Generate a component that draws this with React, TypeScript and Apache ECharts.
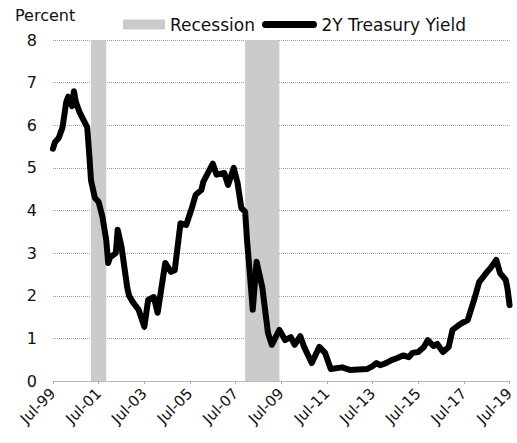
import React, { useEffect, useRef } from "react";
import * as echarts from "echarts";

// month index counted from Jul-1999 (0) to Jul-2019 (240)
const months = [
  0, 1, 3, 5, 7, 8, 9, 10, 11, 12, 14, 18, 19, 20, 22, 24, 26, 28, 29, 30, 33, 34, 36, 39, 40, 42,
  45, 48, 50, 53, 55, 59, 62, 64, 67, 70, 73, 75, 78, 79, 84, 86, 90, 92, 95, 97, 99, 101, 102, 103,
  105, 107, 110, 113, 115, 119, 122, 125, 127, 130, 132, 136, 140, 143, 146, 152, 156, 165, 168, 170,
  172, 175, 178, 181, 184, 187, 189, 192, 195, 197, 200, 202, 205, 208, 210, 213, 215, 218, 222, 224,
  228, 230, 233, 235, 238, 239, 240,
];
const yields = [
  5.45, 5.6, 5.7, 5.95, 6.55, 6.67, 6.6, 6.45, 6.8, 6.55, 6.3, 5.95, 5.35, 4.7, 4.3, 4.2, 3.85, 3.3, 2.77, 2.9, 3.0, 3.55, 3.15, 2.2, 2.0, 1.85,
  1.67, 1.27, 1.9, 1.97, 1.6, 2.77, 2.56, 2.6, 3.7, 3.66, 4.06, 4.37, 4.48, 4.67, 5.1, 4.84, 4.88, 4.6, 5.0, 4.65, 4.06, 3.97, 3.3, 2.77,
  1.67, 2.8, 2.2, 1.13, 0.85, 1.2, 0.96, 1.03, 0.85, 1.05, 0.8, 0.42, 0.8, 0.66, 0.28, 0.32, 0.26, 0.28, 0.35, 0.42,
  0.37, 0.42, 0.49, 0.54, 0.6, 0.56, 0.66, 0.68, 0.8, 0.96, 0.82, 0.87, 0.68, 0.8, 1.2, 1.3, 1.36, 1.43, 2.0, 2.32,
  2.55, 2.65, 2.84, 2.53, 2.37, 2.14, 1.78,
];
const recessionStarts = [20, 101];
const recessionEnds = [28, 119];
const yTicks = [0, 1, 2, 3, 4, 5, 6, 7, 8];

const FONT = "DejaVu Sans";
const BAND = "#cbcbcb";

function monthLabel(m: number): string {
  const names = ["Jan", "Feb", "Mar", "Apr", "May", "Jun", "Jul", "Aug", "Sep", "Oct", "Nov", "Dec"];
  const total = 6 + m;
  const year = 1999 + Math.floor(total / 12);
  const mon = names[total % 12];
  return mon + "-" + String(year % 100).padStart(2, "0");
}

export default function App() {
  const ref = useRef<HTMLDivElement>(null);
  useEffect(() => {
    document.body.style.margin = "0";
    const chart = echarts.init(ref.current!, undefined, { renderer: "svg" });
    chart.setOption({
      animation: false,
      backgroundColor: "#ffffff",
      graphic: [
        {
          type: "text",
          left: 15,
          top: 7,
          style: { text: "Percent", font: `16px "${FONT}"`, fill: "#111" },
        },
      ],
      legend: [
        {
          left: 118,
          top: 11,
          itemWidth: 42,
          itemHeight: 10,
          textStyle: { fontFamily: FONT, fontSize: 17, color: "#111" },
          data: [{ name: "Recession", icon: "rect", itemStyle: { color: BAND } }],
        },
        {
          left: 257,
          top: 11,
          itemWidth: 48,
          itemHeight: 12,
          itemGap: 0,
          textStyle: { fontFamily: FONT, fontSize: 17, color: "#111", padding: [0, 0, 0, 3] },
          data: [{ name: "2Y Treasury Yield", lineStyle: { width: 7, color: "#000", cap: "round" } }],
        },
      ],
      grid: { left: 53, right: 2, top: 40, bottom: 62 },
      xAxis: {
        type: "value",
        min: 0,
        max: 240,
        interval: 24,
        axisLine: { show: true, lineStyle: { color: "#aaa", type: "dotted", width: 1 } },
        axisTick: { show: true, length: 3, lineStyle: { color: "#aaa" } },
        splitLine: { show: false },
        axisLabel: {
          rotate: 45,
          margin: 10,
          fontFamily: FONT,
          fontSize: 15,
          color: "#111",
          formatter: (v: number) => monthLabel(v),
        },
      },
      yAxis: {
        type: "value",
        min: yTicks[0],
        max: yTicks[yTicks.length - 1],
        interval: 1,
        axisLine: { show: false },
        axisTick: { show: false },
        splitLine: { show: true, lineStyle: { color: "#9a9a9a", type: "dotted", width: 1 } },
        axisLabel: { fontFamily: FONT, fontSize: 16, color: "#111", margin: 16 },
      },
      series: [
        {
          name: "Recession",
          type: "bar",
          data: [],
          itemStyle: { color: BAND },
          markArea: {
            silent: true,
            itemStyle: { color: BAND, opacity: 1 },
            data: recessionStarts.map((s, i) => [{ xAxis: s }, { xAxis: recessionEnds[i] }]),
          },
        },
        {
          name: "2Y Treasury Yield",
          type: "line",
          data: months.map((m, i) => [m, yields[i]]),
          symbol: "circle",
          showSymbol: false,
          z: 5,
          lineStyle: { color: "#000", width: 6, join: "round", cap: "round" },
          itemStyle: { color: "rgba(0,0,0,0)", borderWidth: 0 },
        },
      ],
    });
    return () => chart.dispose();
  }, []);
  return <div ref={ref} style={{ width: 517, height: 443 }} />;
}
